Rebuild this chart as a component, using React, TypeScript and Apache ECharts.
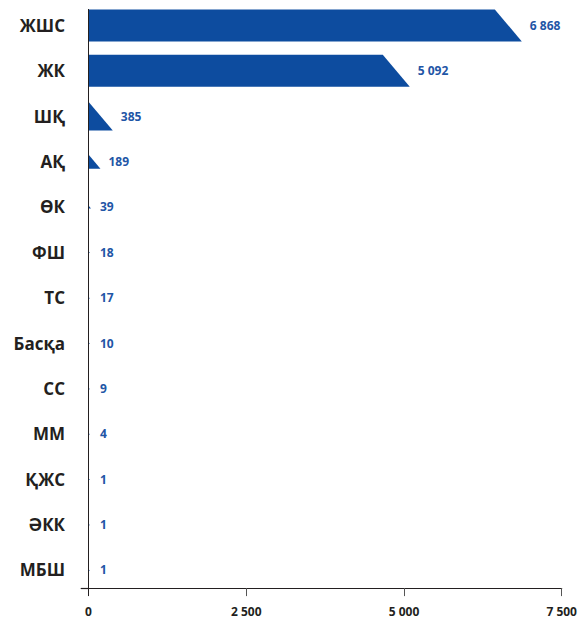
import React, { useEffect, useRef } from "react";
import * as echarts from "echarts";

const categories = ["ЖШС", "ЖК", "ШҚ", "АҚ", "ӨК", "ФШ", "ТС", "Басқа", "СС", "ММ", "ҚЖС", "ӘКК", "МБШ"];
const values = [6868, 5092, 385, 189, 39, 18, 17, 10, 9, 4, 1, 1, 1];
const xTicks = [0, 2500, 5000, 7500];

const BAR_COLOR = "#0d4c9f";
const LABEL_COLOR = "#1f56a6";
const TEXT_COLOR = "#231f20";

const fmt = (v: number) => String(v).replace(/\B(?=(\d{3})+(?!\d))/g, " ");

export default function App() {
  const ref = useRef<HTMLDivElement>(null);
  useEffect(() => {
    if (!ref.current) return;
    const chart = echarts.init(ref.current, null, { renderer: "svg" });
    const data = values.map((v, i) => [v, i]);
    const catIdx = categories.map((_, i) => i);
    chart.setOption({
      animation: false,
      grid: { left: 88.5, right: 18.3, top: 2.8, height: 585.3, containLabel: false },
      xAxis: {
        type: "value",
        position: "bottom",
        min: xTicks[0],
        max: xTicks[xTicks.length - 1],
        interval: 2500,
        axisLine: { show: true, onZero: false, lineStyle: { color: TEXT_COLOR, width: 1.2 } },
        axisTick: { show: true, length: 8, lineStyle: { color: "#555" } },
        splitLine: { show: false },
        axisLabel: {
          margin: 17,
          formatter: (v: number) => fmt(v),
          color: TEXT_COLOR,
          fontFamily: "Open Sans",
          fontWeight: "bold",
          fontSize: 12,
        },
      },
      yAxis: {
        type: "value",
        min: -0.5,
        max: 12.4,
        inverse: true,
        splitLine: { show: false },
        axisLine: { show: false, onZero: false },
        axisTick: { show: false },
        axisLabel: {
          show: true,
          customValues: catIdx,
          margin: 23.5,
          formatter: (v: number) => categories[Math.round(v)] ?? "",
          color: TEXT_COLOR,
          fontFamily: "Open Sans",
          fontWeight: "bold",
          fontSize: 17,
        },
      },
      graphic: [
        {
          type: "line",
          shape: { x1: 88.5, y1: 9, x2: 88.5, y2: 596 },
          style: { stroke: TEXT_COLOR, lineWidth: 1 },
          z: 10,
        },
        {
          type: "line",
          shape: { x1: 80.7, y1: 588.5, x2: 88.5, y2: 588.5 },
          style: { stroke: TEXT_COLOR, lineWidth: 1.2 },
          z: 10,
        },
      ],
      series: [
        {
          type: "custom",
          encode: { x: 0, y: 1 },
          data,
          renderItem: (params: any, api: any) => {
            const v = api.value(0) as number;
            const idx = api.value(1) as number;
            const start = api.coord([0, idx]);
            const end = api.coord([v, idx]);
            const h = 32;
            const s = 27;
            const w = end[0] - start[0];
            let points: number[][];
            if (w >= s) {
              const top = end[1] - h / 2;
              const bottom = end[1] + h / 2;
              points = [
                [start[0], top],
                [end[0] - s, top],
                [end[0], bottom],
                [start[0], bottom],
              ];
            } else {
              const th = Math.max((h * w) / s, 1.5);
              const top = end[1] - th / 2;
              const bottom = end[1] + th / 2;
              points = [
                [start[0], top],
                [Math.max(end[0], start[0] + 1.5), bottom],
                [start[0], bottom],
              ];
            }
            return {
              type: "group",
              children: [
                { type: "polygon", shape: { points }, style: { fill: BAR_COLOR } },
                {
                  type: "text",
                  x: Math.max(end[0] + 8, start[0] + 11.5),
                  y: end[1],
                  style: {
                    text: fmt(v),
                    fill: LABEL_COLOR,
                    font: "bold 12px 'Open Sans'",
                    verticalAlign: "middle",
                    align: "left",
                  },
                },
              ],
            };
          },
        },
      ],
    });
    return () => chart.dispose();
  }, []);
  return (
    <div
      ref={ref}
      style={{ position: "absolute", left: 0, top: 0, width: 580, height: 620 }}
    />
  );
}
